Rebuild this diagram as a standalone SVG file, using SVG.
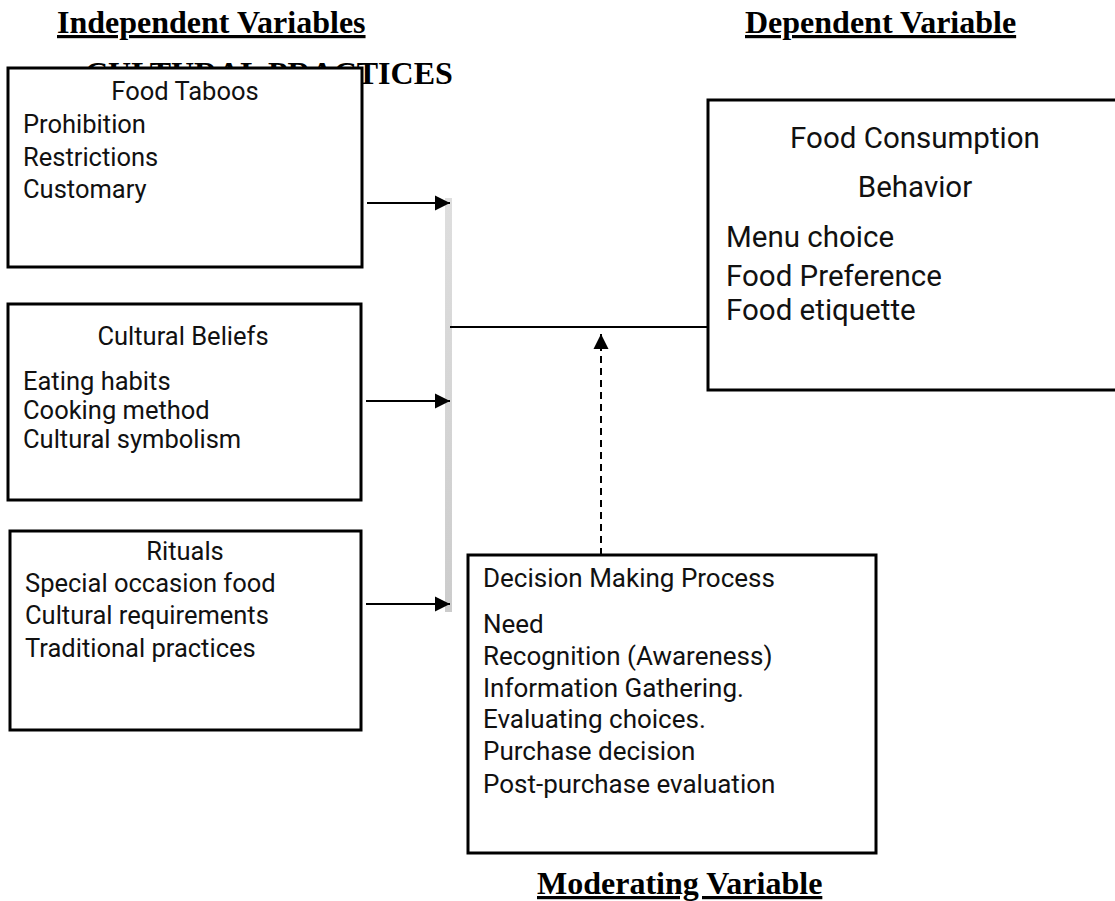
<svg xmlns="http://www.w3.org/2000/svg" width="1115" height="901" viewBox="0 0 1115 901">
<defs>
<style>
.hdr{font-family:"Liberation Serif","Times New Roman",serif;font-weight:bold;font-size:32px;fill:#000;text-decoration:underline}
.cult{font-family:"Liberation Serif","Times New Roman",serif;font-weight:bold;font-size:32px;fill:#000}
.box{fill:#fff;stroke:#000;stroke-width:3}
.t{font-family:Roboto,"Liberation Sans",sans-serif;font-size:25.5px;fill:#111}
.t3{font-family:Roboto,"Liberation Sans",sans-serif;font-size:26px;fill:#111}
.t2{font-family:Roboto,"Liberation Sans",sans-serif;font-size:29.5px;fill:#111}
.ln{stroke:#000;stroke-width:2;fill:none}
</style>
<marker id="ah" viewBox="0 0 10 10" refX="10" refY="5" markerWidth="15" markerHeight="16" markerUnits="userSpaceOnUse" orient="auto">
<path d="M0,0 L10,5 L0,10 z" fill="#000"/>
</marker>
<linearGradient id="bar" x1="0" y1="0" x2="0" y2="1">
<stop offset="0" stop-color="#dedede"/>
<stop offset="1" stop-color="#cccccc"/>
</linearGradient>
</defs>
<rect width="1115" height="901" fill="#fff"/>

<g id="headers">
<text class="hdr" x="57" y="33">Independent Variables</text>
<text class="hdr" x="745" y="33">Dependent Variable</text>
<text class="hdr" x="537" y="894">Moderating Variable</text>
<text class="cult" x="85" y="84">CULTURAL PRACTICES</text>
</g>

<g id="node-food-taboos">
<rect class="box" x="8" y="68" width="354" height="199"/>
<text class="t" x="185" y="100" text-anchor="middle">Food Taboos</text>
<text class="t" x="23" y="133">Prohibition</text>
<text class="t" x="23" y="166">Restrictions</text>
<text class="t" x="23" y="198">Customary</text>
</g>

<g id="node-cultural-beliefs">
<rect class="box" x="8" y="304" width="353" height="196"/>
<text class="t" x="183" y="345" text-anchor="middle">Cultural Beliefs</text>
<text class="t" x="23" y="390">Eating habits</text>
<text class="t" x="23" y="419">Cooking method</text>
<text class="t" x="23" y="448">Cultural symbolism</text>
</g>

<g id="node-rituals">
<rect class="box" x="10" y="531" width="351" height="199"/>
<text class="t" x="185" y="560" text-anchor="middle">Rituals</text>
<text class="t" x="25" y="592">Special occasion food</text>
<text class="t" x="25" y="624">Cultural requirements</text>
<text class="t" x="25" y="657">Traditional practices</text>
</g>

<g id="node-food-consumption">
<rect class="box" x="708" y="100" width="420" height="290"/>
<text class="t2" x="915" y="148" text-anchor="middle">Food Consumption</text>
<text class="t2" x="915" y="197" text-anchor="middle">Behavior</text>
<text class="t2" x="726" y="247">Menu choice</text>
<text class="t2" x="726" y="286">Food Preference</text>
<text class="t2" x="726" y="320">Food etiquette</text>
</g>

<g id="node-decision">
<rect class="box" x="468" y="555" width="408" height="298"/>
<text class="t3" x="483" y="587">Decision Making Process</text>
<text class="t3" x="483" y="633">Need</text>
<text class="t3" x="483" y="665">Recognition (Awareness)</text>
<text class="t3" x="483" y="697">Information Gathering.</text>
<text class="t3" x="483" y="728">Evaluating choices.</text>
<text class="t3" x="483" y="760">Purchase decision</text>
<text class="t3" x="483" y="793">Post-purchase evaluation</text>
</g>

<g id="connectors">
<rect x="445" y="198" width="7" height="414" fill="url(#bar)"/>
<line class="ln" x1="367" y1="203" x2="450" y2="203" marker-end="url(#ah)"/>
<line class="ln" x1="366" y1="401" x2="450" y2="401" marker-end="url(#ah)"/>
<line class="ln" x1="366" y1="604" x2="450" y2="604" marker-end="url(#ah)"/>
<line class="ln" x1="450" y1="327" x2="708" y2="327"/>
<line class="ln" x1="601" y1="555" x2="601" y2="334" stroke-dasharray="7,5" marker-end="url(#ah)"/>
</g>
</svg>
